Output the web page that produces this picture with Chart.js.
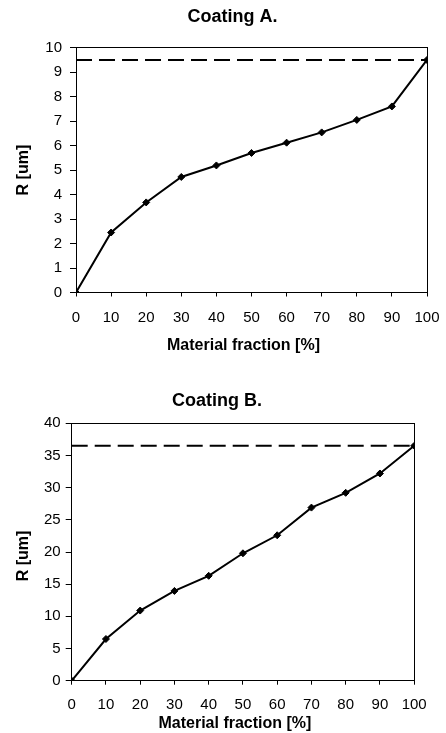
<!DOCTYPE html>
<html>
<head>
<meta charset="utf-8">
<script src="https://cdn.jsdelivr.net/npm/chart.js@4.4.1/dist/chart.umd.min.js"></script>
<style>
  html, body { margin: 0; padding: 0; background: #fff; overflow: hidden; width: 446px; height: 733px; }
  canvas { position: absolute; }
</style>
</head>
<body>
<canvas id="chartA" width="465" height="360" style="left:0px; top:0px;"></canvas>
<canvas id="chartB" width="442" height="363" style="left:-4px; top:370px;"></canvas>
<script>
// ---- data ----
const fractions = [0, 10, 20, 30, 40, 50, 60, 70, 80, 90, 100];
const coatingA = [0, 2.45, 3.68, 4.72, 5.19, 5.7, 6.12, 6.54, 7.05, 7.6, 9.5];
const coatingB = [0, 6.48, 10.9, 13.95, 16.3, 19.8, 22.6, 26.9, 29.2, 32.2, 36.5];
const limitA = 9.5;
const limitB = 36.5;
const titles = ['Coating A.', 'Coating B.'];
const xTitle = 'Material fraction [%]';
const yTitle = 'R [um]';

const FONT = "'Liberation Sans', Arial, sans-serif";

function makeChart(id, values, limit, title, cfg) {
  const pts = fractions.map((f, i) => ({ x: f, y: values[i] }));
  const limitPts = [{ x: fractions[0], y: limit }, { x: fractions[fractions.length - 1], y: limit }];
  return new Chart(document.getElementById(id), {
    type: 'line',
    data: {
      datasets: [
        {
          data: limitPts, xAxisID: 'x', yAxisID: 'y',
          borderColor: '#000', borderWidth: 2, borderDash: [16, 7],
          pointRadius: 0, tension: 0, fill: false
        },
        {
          data: pts, xAxisID: 'x', yAxisID: 'y',
          borderColor: '#000', borderWidth: 2, tension: 0, fill: false,
          pointStyle: 'rectRot', pointRadius: 3.5, pointBackgroundColor: '#000',
          pointBorderColor: '#000', pointBorderWidth: 1
        }
      ]
    },
    options: {
      responsive: false,
      animation: false,
      events: [],
      layout: { padding: 0 },
      plugins: {
        legend: { display: false },
        tooltip: { enabled: false },
        title: {
          display: true, text: title, color: '#000',
          font: { family: FONT, size: 18, weight: 'bold', lineHeight: 1.2 },
          padding: { top: cfg.titleTop, bottom: cfg.titleBottom }
        }
      },
      scales: {
        x: {
          type: 'linear', position: 'bottom', min: 0, max: 100,
          ticks: { stepSize: 10, color: '#000', padding: cfg.xTickPad, maxRotation: 0,
                   font: { family: FONT, size: 15, lineHeight: 1.2 } },
          grid: { display: true, drawOnChartArea: false, drawTicks: true, tickLength: 4, color: '#000' },
          border: { display: true, color: '#000', width: 1 },
          title: { display: true, text: xTitle + '\u2003', color: '#000',
                   font: { family: FONT, size: 16, weight: 'bold', lineHeight: 1.2 },
                   padding: { top: 0, bottom: cfg.xTitlePad } },
          afterFit: s => { s.height = cfg.xHeight; }
        },
        y: {
          type: 'linear', position: 'left', min: 0, max: cfg.yMax,
          ticks: { stepSize: cfg.yStep, color: '#000', padding: cfg.yTickPad,
                   font: { family: FONT, size: 15, lineHeight: 1.2 } },
          grid: { display: true, drawOnChartArea: false, drawTicks: true, tickLength: 6, color: '#000' },
          border: { display: true, color: '#000', width: 1 },
          title: { display: true, text: yTitle + cfg.ySuffix, color: '#000',
                   font: { family: FONT, size: 16, weight: 'bold', lineHeight: 1.2 },
                   padding: { top: cfg.yTitlePad, bottom: 0 } },
          afterFit: s => { s.width = cfg.yWidth; }
        },
        x2: {
          type: 'linear', position: 'top', min: 0, max: 100, display: true,
          ticks: { display: false }, grid: { display: false, drawTicks: false },
          border: { display: true, color: '#000', width: 1 },
          afterFit: s => { s.height = 0; }
        },
        y2: {
          type: 'linear', position: 'right', min: 0, max: cfg.yMax, display: true,
          ticks: { display: false }, grid: { display: false, drawTicks: false },
          border: { display: true, color: '#000', width: 1 },
          afterFit: s => { s.width = cfg.y2Width; }
        }
      }
    }
  });
}

makeChart('chartA', coatingA, limitA, titles[0], {
  titleTop: 6.7, titleBottom: 19.4,
  xHeight: 67.5, xTickPad: 12, xTitlePad: 4.4,
  yWidth: 76, yTickPad: 8, yTitlePad: 14.4, ySuffix: '',
  y2Width: 38, yMax: 10, yStep: 1
});

makeChart('chartB', coatingB, limitB, titles[1], {
  titleTop: 19.9, titleBottom: 11.8,
  xHeight: 52.3, xTickPad: 11.3, xTitlePad: 0.1,
  yWidth: 75.7, yTickPad: 5, yTitlePad: 17.7, ySuffix: '\u2002',
  y2Width: 17.3, yMax: 40, yStep: 5
});
</script>
</body>
</html>
